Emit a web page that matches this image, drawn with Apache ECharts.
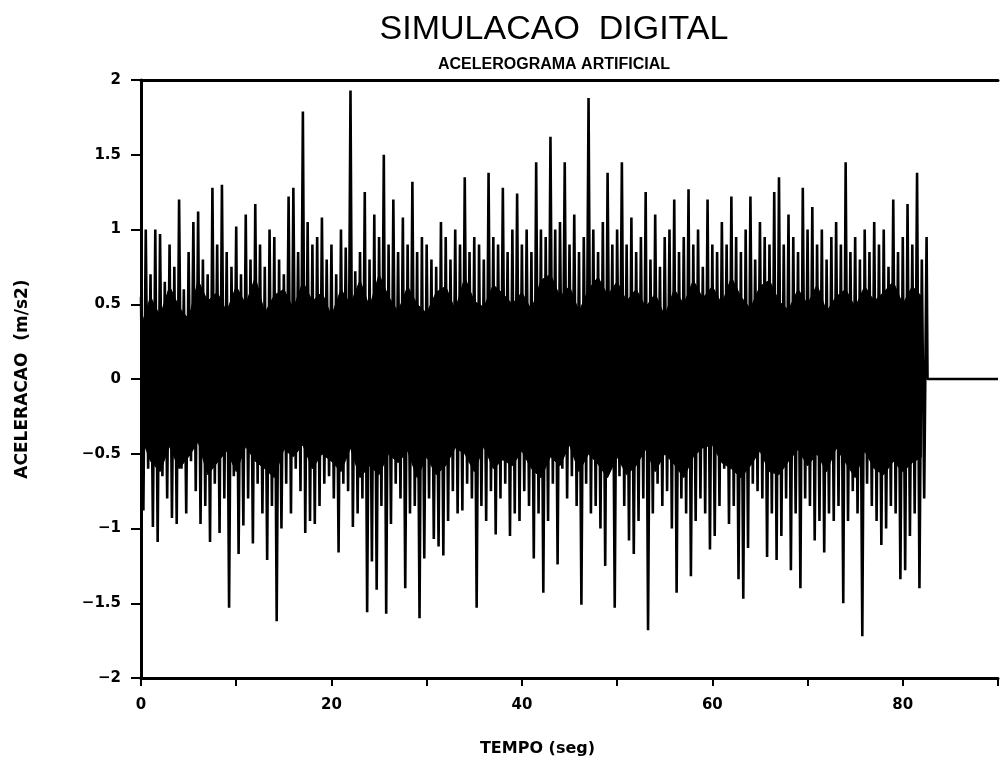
<!DOCTYPE html>
<html>
<head>
<meta charset="utf-8">
<title>Simulacao digital</title>
<script src="https://cdn.jsdelivr.net/npm/echarts@6/dist/echarts.min.js"></script>
<style>
  html, body { margin: 0; padding: 0; background: #fff; }
  #chart { width: 1001px; height: 762px; }
</style>
</head>
<body>
<div id="chart"></div>
<script>
// picos positivos, um a cada 0.5 s (t = 0 ... 82.5)
var pico = [
  0.55, 1.0, 0.7, 1.0, 0.97, 0.65, 0.9, 0.75, 1.2, 0.6,
  0.85, 1.05, 1.12, 0.8, 0.7, 1.28, 0.9, 1.3, 0.85, 0.75,
  1.02, 0.7, 1.1, 0.8, 1.17, 0.9, 0.75, 1.0, 0.95, 0.8,
  0.7, 1.22, 1.28, 0.85, 1.79, 1.05, 0.9, 0.95, 1.08, 0.8,
  0.9, 0.7, 1.0, 0.88, 1.93, 0.72, 0.85, 1.25, 0.8, 1.1,
  0.95, 1.5, 0.9, 1.2, 0.85, 1.08, 0.9, 1.32, 0.85, 0.95,
  0.9, 0.8, 0.75, 1.05, 0.95, 0.8, 1.0, 0.9, 1.35, 0.85,
  0.95, 0.9, 0.8, 1.38, 0.95, 0.9, 1.28, 0.85, 1.0, 1.24,
  0.9, 1.0, 0.85, 1.45, 1.0, 0.95, 1.62, 1.0, 1.05, 1.45,
  0.9, 1.1, 0.85, 0.95, 1.88, 1.0, 0.85, 1.05, 1.38, 0.9,
  1.0, 1.45, 0.9, 1.08, 0.85, 0.95, 1.25, 0.8, 1.1, 0.75,
  0.95, 1.0, 1.2, 0.85, 0.95, 1.27, 0.9, 1.0, 0.75, 1.2,
  0.9, 0.85, 1.05, 0.9, 1.22, 0.95, 0.85, 1.0, 1.22, 0.8,
  1.05, 0.95, 0.9, 1.25, 1.35, 0.9, 1.1, 0.95, 0.85, 1.28,
  1.0, 1.15, 0.9, 1.0, 0.8, 0.95, 1.05, 0.9, 1.45, 0.85,
  0.95, 0.8, 1.0, 0.85, 1.05, 0.9, 1.0, 0.75, 1.2, 0.85,
  0.95, 1.17, 0.9, 1.38, 0.8, 0.95
];
// picos negativos, um a cada 0.5 s (t = 0.25 ... 82.25)
var vale = [
  -0.88, -0.6, -0.99, -1.09, -0.65, -0.8, -0.93, -0.97, -0.6, -0.9,
  -0.55, -0.75, -0.97, -0.85, -1.09, -0.7, -1.03, -0.8, -1.53, -0.65,
  -1.17, -0.98, -0.8, -1.1, -0.7, -0.9, -1.21, -0.85, -1.62, -1.0,
  -0.7, -0.9, -0.6, -0.75, -1.03, -0.95, -0.97, -0.85, -0.7, -0.65,
  -0.8, -1.16, -0.7, -0.75, -0.99, -0.9, -0.8, -1.56, -1.22, -1.41,
  -0.85, -1.57, -0.97, -0.7, -0.8, -1.4, -0.9, -0.85, -1.6, -1.2,
  -0.8, -1.07, -1.12, -1.18, -0.95, -0.75, -0.9, -0.88, -0.7, -0.8,
  -1.53, -0.85, -0.95, -0.75, -1.04, -0.8, -0.7, -1.05, -0.9, -0.95,
  -0.75, -0.85, -1.2, -0.9, -1.43, -0.95, -0.7, -1.24, -0.6, -0.8,
  -0.65, -0.85, -1.51, -0.7, -0.9, -0.85, -1.0, -1.25, -0.6, -1.53,
  -0.65, -0.85, -1.08, -1.17, -0.95, -0.8, -1.68, -0.9, -0.7, -0.85,
  -0.75, -1.0, -1.43, -0.8, -0.9, -1.32, -0.95, -0.8, -0.9, -1.14,
  -1.05, -0.85, -0.6, -0.97, -0.85, -1.34, -1.47, -1.13, -0.7, -0.75,
  -0.8, -1.19, -0.9, -1.21, -1.05, -0.8, -1.28, -0.9, -1.4, -0.8,
  -0.85, -1.08, -0.95, -1.16, -0.9, -0.95, -0.85, -1.5, -0.95, -0.75,
  -0.9, -1.72, -0.7, -0.85, -0.95, -1.11, -1.0, -0.85, -0.9, -1.34,
  -1.28, -1.05, -0.9, -1.4, -0.8
];
// faixa central onde as oscilacoes se sobrepoem (preto solido), um valor por segundo (t = 0 ... 82)
var nucleoSup = [
  0.35, 0.55, 0.42, 0.62, 0.48, 0.40, 0.66, 0.52, 0.58, 0.45,
  0.62, 0.50, 0.68, 0.44, 0.56, 0.60, 0.47, 0.65, 0.52, 0.58,
  0.42, 0.60, 0.50, 0.66, 0.48, 0.70, 0.55, 0.45, 0.62, 0.50,
  0.44, 0.58, 0.62, 0.46, 0.68, 0.52, 0.48, 0.63, 0.57, 0.50,
  0.58, 0.46, 0.66, 0.70, 0.55, 0.62, 0.45, 0.60, 0.68, 0.56,
  0.65, 0.52, 0.60, 0.48, 0.57, 0.42, 0.60, 0.50, 0.66, 0.54,
  0.62, 0.50, 0.68, 0.55, 0.47, 0.62, 0.66, 0.52, 0.46, 0.60,
  0.50, 0.63, 0.45, 0.55, 0.60, 0.48, 0.62, 0.52, 0.58, 0.65,
  0.50, 0.62, 0.55
];
var nucleoInf = [
  -0.38, -0.55, -0.62, -0.45, -0.60, -0.52, -0.42, -0.64, -0.56, -0.48,
  -0.62, -0.45, -0.55, -0.60, -0.66, -0.47, -0.52, -0.44, -0.60, -0.50,
  -0.55, -0.62, -0.46, -0.66, -0.58, -0.64, -0.50, -0.56, -0.48, -0.66,
  -0.52, -0.64, -0.58, -0.46, -0.50, -0.62, -0.45, -0.60, -0.54, -0.58,
  -0.48, -0.60, -0.66, -0.52, -0.58, -0.44, -0.62, -0.50, -0.57, -0.66,
  -0.52, -0.64, -0.58, -0.47, -0.62, -0.50, -0.57, -0.66, -0.52, -0.46,
  -0.44, -0.56, -0.60, -0.66, -0.58, -0.48, -0.62, -0.64, -0.55, -0.47,
  -0.58, -0.50, -0.62, -0.46, -0.56, -0.66, -0.48, -0.60, -0.64, -0.55,
  -0.62, -0.56, -0.52
];
// depois do fim do sinal a linha fica em zero ate o fim do eixo
var cauda = [[82.6, 0], [90, 0]];
var passo = 0.5;

var dados = [];
for (var k = 0; k < pico.length; k++) {
  dados.push([k * passo, pico[k]]);
  if (k < vale.length) {
    dados.push([k * passo + passo / 2, vale[k]]);
  }
}
for (var c = 0; c < cauda.length; c++) {
  dados.push(cauda[c]);
}
var sup = [], inf = [];
for (var j = 0; j < nucleoSup.length; j++) {
  sup.push([j, nucleoSup[j]]);
  inf.push([j, nucleoInf[j]]);
}

var fonte = 'DejaVu Sans';
var chart = echarts.init(document.getElementById('chart'), null, { renderer: 'canvas' });
var option = {
  backgroundColor: '#fff',
  animation: false,
  title: [{
    text: 'SIMULACAO  DIGITAL',
    left: 549,
    top: 8,
    textAlign: 'center',
    textStyle: { fontFamily: 'Liberation Sans', fontSize: 34, fontWeight: 'normal', color: '#000' }
  }, {
    text: 'ACELEROGRAMA ARTIFICIAL',
    left: 549,
    top: 52,
    textAlign: 'center',
    textStyle: { fontFamily: 'Liberation Sans', fontSize: 16, fontWeight: 'bold', color: '#000' }
  }],
  grid: { left: 141, right: 1, top: 80, bottom: 83 },
  xAxis: [{
    type: 'value',
    min: 0,
    max: 90,
    interval: 10,
    name: 'TEMPO (seg)',
    nameLocation: 'middle',
    nameGap: 63,
    nameTextStyle: { fontFamily: fonte, fontSize: 16, fontWeight: 'bold', color: '#000', padding: [0, 64, 0, 0] },
    axisLine: { onZero: false, lineStyle: { color: '#000', width: 3 } },
    axisTick: { length: 8, lineStyle: { color: '#000', width: 2 } },
    axisLabel: {
      margin: 20,
      fontFamily: fonte, fontSize: 15, fontWeight: 'bold', color: '#000',
      formatter: function (v) { return v % 20 === 0 ? String(v) : ''; }
    },
    splitLine: { show: false }
  }, {
    type: 'value',
    position: 'top',
    min: 0,
    max: 90,
    axisLine: { onZero: false, lineStyle: { color: '#000', width: 3 } },
    axisTick: { show: false },
    axisLabel: { show: false },
    splitLine: { show: false }
  }],
  yAxis: {
    type: 'value',
    min: -2,
    max: 2,
    interval: 0.5,
    name: 'ACELERACAO  (m/s2)',
    nameLocation: 'middle',
    nameRotate: 90,
    nameGap: 110,
    nameTextStyle: { fontFamily: fonte, fontSize: 17, fontWeight: 'bold', color: '#000' },
    axisLine: { show: true, lineStyle: { color: '#000', width: 3 } },
    axisTick: { show: true, length: 10, lineStyle: { color: '#000', width: 2 } },
    axisLabel: {
      margin: 20,
      fontFamily: fonte, fontSize: 15, fontWeight: 'bold', color: '#000',
      formatter: function (v) { return String(v).replace('-', '\u2212'); }
    },
    splitLine: { show: false }
  },
  series: [{
    name: 'nucleo sup',
    type: 'line',
    data: sup,
    showSymbol: false,
    lineStyle: { color: '#000', width: 1 },
    areaStyle: { color: '#000', opacity: 1 },
    emphasis: { disabled: true }
  }, {
    name: 'nucleo inf',
    type: 'line',
    data: inf,
    showSymbol: false,
    lineStyle: { color: '#000', width: 1 },
    areaStyle: { color: '#000', opacity: 1 },
    emphasis: { disabled: true }
  }, {
    name: 'aceleracao',
    type: 'line',
    data: dados,
    showSymbol: false,
    sampling: null,
    lineStyle: { color: '#000', width: 2.6 },
    emphasis: { disabled: true }
  }]
};
chart.setOption(option);
</script>
</body>
</html>
